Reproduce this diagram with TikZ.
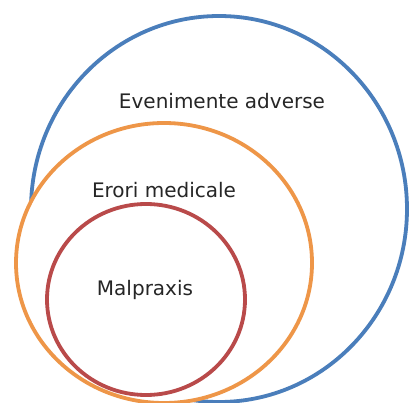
\documentclass[tikz,border=0pt]{standalone}
\usepackage{fontspec}
\setmainfont{DejaVu Sans}
\definecolor{evblue}{RGB}{74,126,187}
\definecolor{erorange}{RGB}{238,150,72}
\definecolor{mpred}{RGB}{185,74,74}
\tikzset{
  ring/.style={line width=3.8pt, fill=white},
  lbl/.style={anchor=base, inner sep=0pt, text=black!85, font=\fontsize{20}{24}\selectfont}
}
\begin{document}
\begin{tikzpicture}[x=1pt,y=-1pt]
\useasboundingbox (0,0) rectangle (409,403);
\fill[white] (0,0) rectangle (409,403);
\draw[ring, draw=evblue] (219,209) ellipse [x radius=188, y radius=193];
\draw[ring, draw=erorange] (164,263) ellipse [x radius=148, y radius=140];
\draw[ring, draw=mpred] (146,299.5) ellipse [x radius=99, y radius=95.5];
\node[lbl] (ev) at (222,108.3) {Evenimente adverse};
\node[lbl] (er) at (164,198) {Erori medicale};
\node[lbl] (mp) at (145,295) {Malpraxis};
\end{tikzpicture}
\end{document}
